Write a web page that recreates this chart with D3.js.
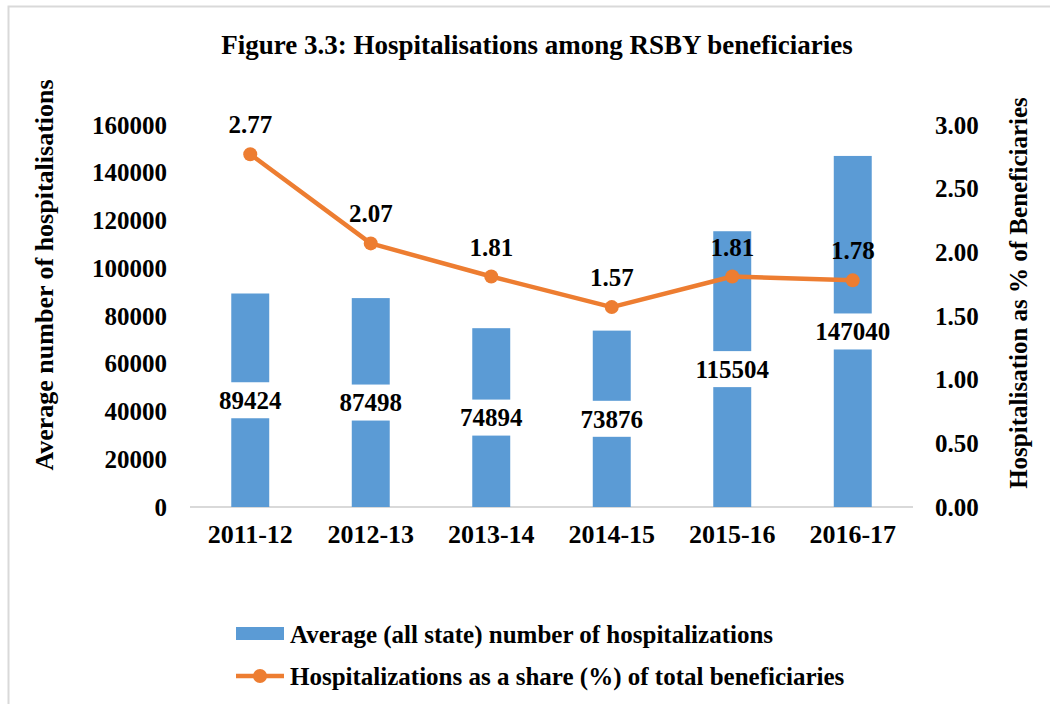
<!DOCTYPE html>
<html>
<head>
<meta charset="utf-8">
<script src="https://cdn.jsdelivr.net/npm/d3@7"></script>
<style>
  body { margin: 0; background: #fff; }
  text { font-family: "Liberation Serif", "Times New Roman", serif; font-weight: bold; fill: #000; }
</style>
</head>
<body>
<script>
// chart data
var years = ["2011-12", "2012-13", "2013-14", "2014-15", "2015-16", "2016-17"];
var hospitalisations = [89424, 87498, 74894, 73876, 115504, 147040];
var sharePct = [2.77, 2.07, 1.81, 1.57, 1.81, 1.78];
var leftTicks = [0, 20000, 40000, 60000, 80000, 100000, 120000, 140000, 160000];
var rightTicks = [0, 0.5, 1, 1.5, 2, 2.5, 3];

var W = 1050, H = 704;
var blue = "#5b9bd5", orange = "#ed7d31";

var svg = d3.select("body").append("svg").attr("width", W).attr("height", H);

// outer chart frame (only top/left visible in the crop)
svg.append("rect").attr("x", 8.5).attr("y", 6.5).attr("width", 1100).attr("height", 800)
  .attr("fill", "none").attr("stroke", "#d9d9d9").attr("stroke-width", 2);

var pLeft = 190, pRight = 913, pTop = 125, pBottom = 507;

var x = d3.scaleBand().domain(years).range([pLeft, pRight]).paddingInner(0.685).paddingOuter(0.3425);
var yL = d3.scaleLinear().domain([0, 160000]).range([pBottom, pTop]);
var yR = d3.scaleLinear().domain([0, 3]).range([pBottom, pTop]);

// title
svg.append("text").attr("x", 537).attr("y", 54).attr("text-anchor", "middle")
  .style("font-size", "27px").text("Figure 3.3: Hospitalisations among RSBY beneficiaries");

// axes (labels only)
var axL = svg.append("g").attr("transform", "translate(" + pLeft + ",0)")
  .call(d3.axisLeft(yL).tickValues(leftTicks).tickSize(0).tickPadding(23).tickFormat(d3.format("d")));
var axR = svg.append("g").attr("transform", "translate(" + pRight + ",0)")
  .call(d3.axisRight(yR).tickValues(rightTicks).tickSize(0).tickPadding(22).tickFormat(d3.format(".2f")));
var axB = svg.append("g").attr("transform", "translate(0," + pBottom + ")")
  .call(d3.axisBottom(x).tickSize(0).tickPadding(18));
[axL, axR, axB].forEach(function(g) {
  g.select(".domain").remove();
  g.selectAll("text").style("font-size", "25px").attr("font-family", null);
});
axB.selectAll("text").style("font-size", "26px");

// baseline
svg.append("line").attr("x1", pLeft).attr("x2", pRight).attr("y1", pBottom).attr("y2", pBottom)
  .attr("stroke", "#d9d9d9").attr("stroke-width", 2);

// axis titles
svg.append("text").attr("transform", "translate(53,275) rotate(-90)").attr("text-anchor", "middle")
  .style("font-size", "26px").text("Average number of hospitalisations");
svg.append("text").attr("transform", "translate(1027,293) rotate(-90)").attr("text-anchor", "middle")
  .style("font-size", "25px").text("Hospitalisation as % of Beneficiaries");

// bars
svg.selectAll("rect.bar").data(hospitalisations).enter().append("rect")
  .attr("class", "bar")
  .attr("x", function(d, i) { return x(years[i]); })
  .attr("width", x.bandwidth())
  .attr("y", function(d) { return yL(d); })
  .attr("height", function(d) { return pBottom - yL(d); })
  .attr("fill", blue);

// bar labels with white boxes
var bl = svg.selectAll("g.blab").data(hospitalisations).enter().append("g").attr("class", "blab")
  .attr("transform", function(d, i) {
    return "translate(" + (x(years[i]) + x.bandwidth() / 2) + "," + ((yL(d) + pBottom) / 2) + ")";
  });
bl.append("rect").attr("x", -46).attr("y", -18).attr("width", 92).attr("height", 36).attr("fill", "#fff");
bl.append("text").attr("text-anchor", "middle").attr("dy", "0.35em").style("font-size", "25px")
  .text(function(d) { return d; });

// line
var cx = function(i) { return x(years[i]) + x.bandwidth() / 2; };
svg.append("path").datum(sharePct)
  .attr("d", d3.line().x(function(d, i) { return cx(i); }).y(function(d) { return yR(d); }))
  .attr("fill", "none").attr("stroke", orange).attr("stroke-width", 4.5).attr("stroke-linejoin", "round");
svg.selectAll("circle.pt").data(sharePct).enter().append("circle")
  .attr("class", "pt").attr("cx", function(d, i) { return cx(i); }).attr("cy", function(d) { return yR(d); })
  .attr("r", 7).attr("fill", orange);
svg.selectAll("text.plab").data(sharePct).enter().append("text")
  .attr("class", "plab").attr("x", function(d, i) { return cx(i); }).attr("y", function(d) { return yR(d) - 21; })
  .attr("text-anchor", "middle").style("font-size", "25px").text(function(d) { return d.toFixed(2); });

// legend
var lg = svg.append("g");
lg.append("rect").attr("x", 236).attr("y", 627).attr("width", 48).attr("height", 13).attr("fill", blue);
lg.append("text").attr("x", 290).attr("y", 643).style("font-size", "25px").text("Average (all state) number of hospitalizations");
lg.append("line").attr("x1", 236).attr("x2", 284).attr("y1", 676).attr("y2", 676)
  .attr("stroke", orange).attr("stroke-width", 4.5);
lg.append("circle").attr("cx", 260).attr("cy", 676).attr("r", 7).attr("fill", orange);
lg.append("text").attr("x", 290).attr("y", 685).style("font-size", "25px").text("Hospitalizations as a share (%) of total beneficiaries");
</script>
</body>
</html>
